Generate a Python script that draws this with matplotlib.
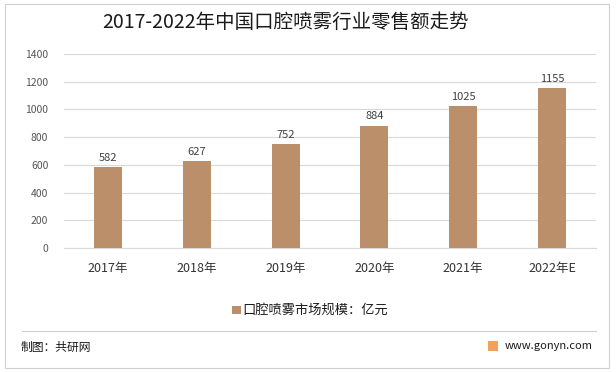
import matplotlib
matplotlib.use('Agg')
import matplotlib.pyplot as plt
from matplotlib.patches import Rectangle
from matplotlib.lines import Line2D

plt.rcParams['font.family'] = ['Noto Sans CJK SC', 'DejaVu Sans']

years = ['2017年', '2018年', '2019年', '2020年', '2021年', '2022年E']
values = [582, 627, 752, 884, 1025, 1155]
yticks = [0, 200, 400, 600, 800, 1000, 1200, 1400]
bar_color = '#BC8F6B'

fig = plt.figure(figsize=(6.16, 3.72), dpi=100)
ax = fig.add_axes([0.1032, 0.3333, 0.8649, 0.5215])

x = list(range(len(years)))
bars = ax.bar(x, values, width=0.315, color=bar_color, zorder=3)
for xi, v in zip(x, values):
    ax.text(xi, v + 30, str(v), ha='center', va='bottom', fontsize=8, color='#404040')

ax.set_xlim(-0.5, len(years) - 0.5)
ax.set_ylim(0, 1400)
ax.set_yticks(yticks)
ax.set_xticks(x)
ax.set_xticklabels(years, fontsize=9, color='#333333')
ax.tick_params(axis='y', labelsize=7.5, colors='#555555', length=0, pad=11)
ax.tick_params(axis='x', length=0, pad=10)
ax.grid(axis='y', color='#D9D9D9', linewidth=0.8, zorder=0)
for s in ['top', 'right', 'left']:
    ax.spines[s].set_visible(False)
ax.spines['bottom'].set_color('#D9D9D9')

fig.text(0.463, 0.94, '2017-2022年中国口腔喷雾行业零售额走势', ha='center', va='center',
         fontsize=14, color='#1a1a1a')

# legend
fig.patches.append(Rectangle((0.377, 0.155), 0.0135, 0.022, transform=fig.transFigure,
                             facecolor=bar_color, edgecolor='none'))
fig.text(0.393, 0.165, '口腔喷雾市场规模：亿元', ha='left', va='center', fontsize=9.5, color='#1a1a1a')

# frame and footer
fig.patches.append(Rectangle((0.008, 0.012), 0.981, 0.977, transform=fig.transFigure,
                             facecolor='none', edgecolor='#D0D0D0', linewidth=0.8))
fig.lines.append(Line2D([0.036, 0.968], [0.111, 0.111], transform=fig.transFigure,
                        color='#D0D0D0', linewidth=0.8))
fig.text(0.034, 0.065, '制图：共研网', ha='left', va='center', fontsize=8.5, color='#1a1a1a')
fig.patches.append(Rectangle((0.792, 0.057), 0.016, 0.026, transform=fig.transFigure,
                             facecolor='#F2A05A', edgecolor='none'))
fig.text(0.962, 0.07, 'www.gonyn.com', ha='right', va='center', fontsize=8, color='#1a1a1a')

fig.savefig('out.png', dpi=100)
